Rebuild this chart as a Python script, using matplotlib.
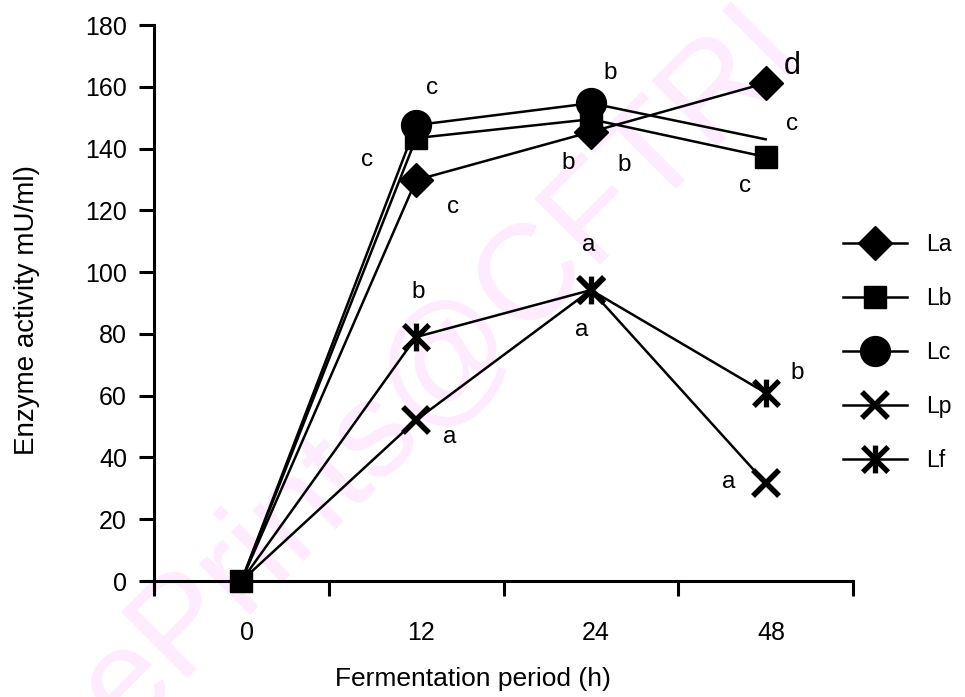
import numpy as np
import matplotlib
matplotlib.use("Agg")
import matplotlib.pyplot as plt
from matplotlib.path import Path

plt.rcParams['font.family'] = ['Liberation Sans', 'DejaVu Sans']

# data (enzyme activity, mU/ml)
periods = ["0", "12", "24", "48"]
la = [0, 129.8, 145.4, 161.2]
lb = [0, 143.4, 149.5, 137.3]
lc = [0, 147.6, 154.7, 143.0]
lp = [0, 52.1, 94.2, 31.7]
lf = [0, 79.0, 94.2, 60.9]

# significance letters: (x position, y position, text)
letter_x = [1.09, 0.72, 1.21, 2.11, 1.87, 2.19, 3.15, 2.88, 1.99, 1.95, 1.01, 1.19, 3.18, 2.79]
letter_y = [159.6, 136.3, 121.1, 164.5, 135.3, 134.7, 148.0, 127.9, 108.8, 81.3, 93.6, 46.6, 67.3, 32.0]
letter_t = ["c", "c", "c", "b", "b", "b", "c", "c", "a", "a", "b", "a", "b", "a"]

# asterisk marker for Lf (x with vertical bar)
star = Path([(-1, -1), (1, 1), (-1, 1), (1, -1), (0, -1.1), (0, 1.1)],
            [Path.MOVETO, Path.LINETO, Path.MOVETO, Path.LINETO, Path.MOVETO, Path.LINETO])

fig = plt.figure(figsize=(9.65, 6.97), dpi=100)

# watermark
fig.text(0.456, 0.47, "ePrints@CFTRI", fontsize=98, rotation=45, color="#feebfe",
         ha="center", va="center", zorder=-1)

ax = fig.add_axes([0.1596, 0.1664, 0.7244, 0.7977])
ax.set_facecolor("none")
x = np.arange(len(periods))

lw = 1.8
ax.plot(x, la, color="black", lw=lw, marker="D", ms=17.5, markevery=[1, 2, 3], label="La", zorder=3, clip_on=False)
ax.plot(x, lc, color="black", lw=lw, marker="o", ms=21.5, markevery=[1, 2], label="Lc", zorder=3, clip_on=False)
ax.plot(x, lb, color="black", lw=lw, marker="s", ms=16.5, label="Lb", zorder=4, clip_on=False)
ax.plot(x, lp, color="black", lw=lw, marker="x", ms=19, mew=4, markevery=[1, 2, 3], label="Lp", zorder=3, clip_on=False)
ax.plot(x, lf, color="black", lw=lw, marker=star, ms=20, mew=3.8, markevery=[1, 2, 3], label="Lf", zorder=3, clip_on=False)

for tx, ty, t in zip(letter_x, letter_y, letter_t):
    ax.text(tx, ty, t, fontsize=17.5, ha="center", va="center")
ax.text(3.15, 166.7, "d", fontsize=22, ha="center", va="center")

ax.set_xlim(-0.5, 3.5)
ax.set_ylim(0, 180)
ax.set_yticks(np.arange(0, 181, 20))
ax.set_xticks(np.arange(-0.5, 3.6, 1))
ax.set_xticklabels([])
for i, p in enumerate(periods):
    ax.text(i + 0.03, -13, p, fontsize=18, ha="center", va="top")

ax.spines["top"].set_visible(False)
ax.spines["right"].set_visible(False)
for s in ["left", "bottom"]:
    ax.spines[s].set_linewidth(2.2)
ax.spines["left"].set_bounds(-3, 180)
ax.spines["bottom"].set_bounds(-0.56, 3.5)
ax.tick_params(axis="both", width=2.2, length=10.5, labelsize=18)
ax.tick_params(axis="y", direction="out", pad=9)
ax.tick_params(axis="x", direction="out")

ax.set_xlabel("Fermentation period (h)", fontsize=19)
ax.xaxis.set_label_coords(0.456, -0.155)
ax.set_ylabel("Enzyme activity mU/ml)", fontsize=20)
ax.yaxis.set_label_coords(-0.163, 0.487)

h, l = ax.get_legend_handles_labels()
order = [0, 2, 1, 3, 4]
leg = fig.legend([h[i] for i in order], [l[i] for i in order], loc="center left",
                 bbox_to_anchor=(843 / 965, 1 - 352.5 / 697), frameon=False, fontsize=16.5,
                 handlelength=2.8, labelspacing=1.35, handletextpad=0.83,
                 borderpad=0, borderaxespad=0)

fig.savefig("out.png", dpi=100)
